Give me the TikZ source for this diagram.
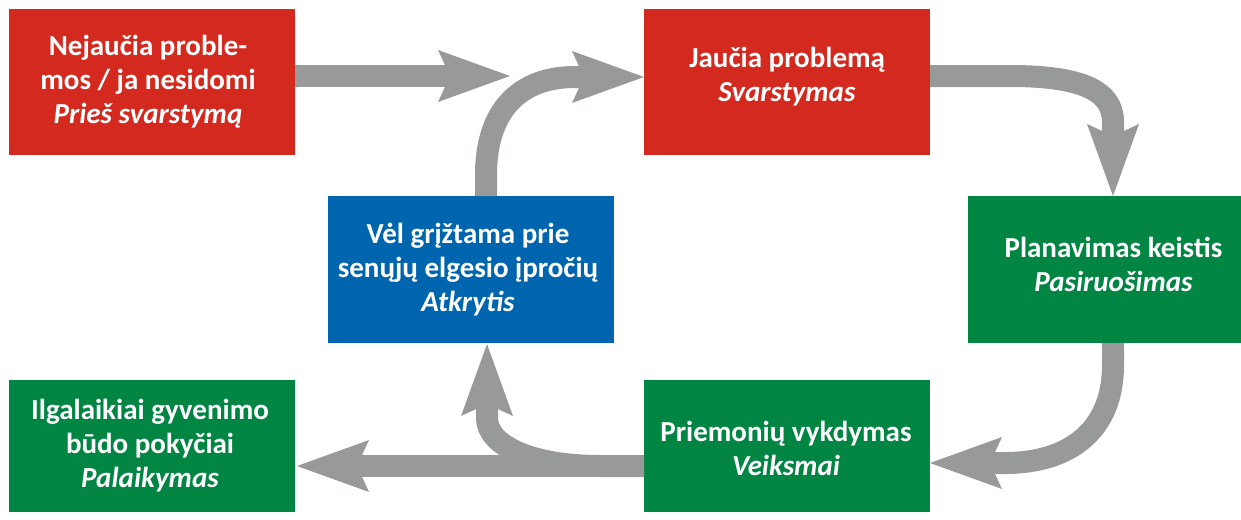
\documentclass[tikz,border=0pt]{standalone}
\usepackage{fontspec}
\setmainfont{Carlito}
\usetikzlibrary{arrows.meta,calc}
\definecolor{boxred}{RGB}{211,41,30}
\definecolor{boxgreen}{RGB}{0,133,66}
\definecolor{boxblue}{RGB}{0,101,175}
\definecolor{arrgray}{RGB}{152,154,153}
\begin{document}
\begin{tikzpicture}[x=1pt,y=-1pt,
  stagebox/.style={inner sep=0pt,outer sep=0pt,minimum width=286pt},
  stagetext/.style={inner sep=0pt,text=white,align=center,
    font=\fontsize{29}{34}\selectfont\bfseries},
  flow/.style={draw=arrgray,line width=22pt,
    -{Stealth[length=72pt,width=52pt,inset=12pt,line width=0pt,fill=arrgray]}}]
\useasboundingbox (0,0) rectangle (1241,519);
\node[stagebox,fill=boxred,minimum height=146pt] (b1) at (152,82) {};
\node[stagebox,fill=boxred,minimum height=146pt] (b2) at (787,82) {};
\node[stagebox,fill=boxgreen,minimum width=273pt,minimum height=147pt] (b3) at (1104.5,269.5) {};
\node[stagebox,fill=boxblue,minimum height=147pt] (b4) at (471,269.5) {};
\node[stagebox,fill=boxgreen,minimum height=132pt] (b5) at (787,446) {};
\node[stagebox,fill=boxgreen,minimum height=132pt] (b6) at (152,446) {};
\node[stagetext] (b1t) at ($(b1.center)+(-4,0)$)
  {Nejaučia proble-\\mos / ja nesidomi\\\textit{Prieš svarstymą}};
\node[stagetext] (b2t) at ($(b2.center)+(0,-5)$)
  {Jaučia problemą\\\textit{Svarstymas}};
\node[stagetext] (b3t) at ($(b3.center)+(9,-5)$)
  {Planavimas keistis\\\textit{Pasiruošimas}};
\node[stagetext] (b4t) at ($(b4.center)+(-3,0)$)
  {Vėl grįžtama prie\\senųjų elgesio įpročių\\\textit{Atkrytis}};
\node[stagetext] (b5t) at ($(b5.center)+(-1,2)$)
  {Priemonių vykdymas\\\textit{Veiksmai}};
\node[stagetext] (b6t) at ($(b6.center)+(-2,0)$)
  {Ilgalaikiai gyvenimo\\būdo pokyčiai\\\textit{Palaikymas}};
% free ends
\coordinate (t1) at (510,76);
\coordinate (t6) at (487,344);
\coordinate (t5) at (297,466);
% arrows
\draw[flow] (b1.east |- 0,76) -- (t1);
\draw[flow] (b4.north -| 486,0) -- (486,175) .. controls (486,110) and (520,77) .. (575,77) -- (b2.west |- 0,77);
\draw[flow] (b2.east |- 0,76) -- (1010,76) .. controls (1080,76) and (1113,90) .. (1113,122) -- (b3.north -| 1113,0);
\draw[flow] (b3.south -| 1113,0) -- (1113,365) .. controls (1113,430) and (1070,463) .. (1005,463) -- (b5.east |- 0,463);
\draw[flow] (b5.west |- 0,466) -- (600,466) .. controls (530,466) and (487,445) .. (487,418) -- (t6);
\draw[flow] (b5.west |- 0,466) -- (t5);
\end{tikzpicture}
\end{document}
